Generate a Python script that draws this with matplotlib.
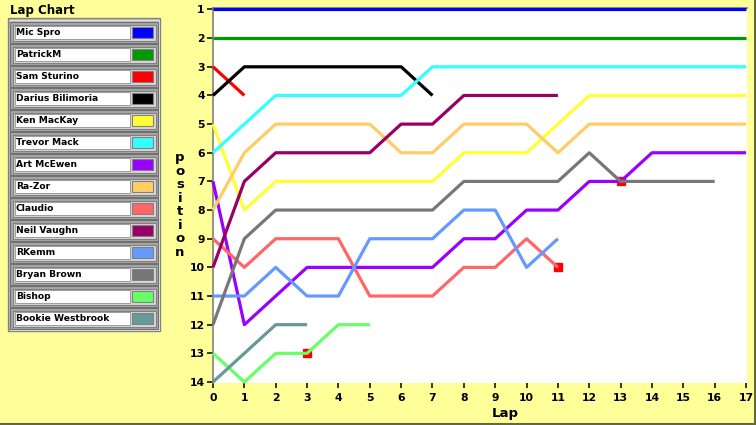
import matplotlib
matplotlib.use("Agg")
import matplotlib.pyplot as plt
from matplotlib.patches import Rectangle
from matplotlib.lines import Line2D

# ---------------- data ----------------
drivers = ["Mic Spro", "PatrickM", "Sam Sturino", "Darius Bilimoria", "Ken MacKay",
           "Trevor Mack", "Art McEwen", "Ra-Zor", "Claudio", "Neil Vaughn",
           "RKemm", "Bryan Brown", "Bishop", "Bookie Westbrook"]
colors = ["#0000FF", "#009900", "#FF0000", "#000000", "#FFFF33",
          "#33FFFF", "#9900FF", "#FFCC66", "#FF6666", "#990066",
          "#6699FF", "#777777", "#66FF66", "#669999"]

mic_spro = [1, 1, 1, 1, 1, 1, 1, 1, 1, 1, 1, 1, 1, 1, 1, 1, 1, 1]
patrickm = [2, 2, 2, 2, 2, 2, 2, 2, 2, 2, 2, 2, 2, 2, 2, 2, 2, 2]
sam_sturino = [3, 4]
darius = [4, 3, 3, 3, 3, 3, 3, 4]
ken_mackay = [5, 8, 7, 7, 7, 7, 7, 7, 6, 6, 6, 5, 4, 4, 4, 4, 4, 4]
trevor_mack = [6, 5, 4, 4, 4, 4, 4, 3, 3, 3, 3, 3, 3, 3, 3, 3, 3, 3]
art_mcewen = [7, 12, 11, 10, 10, 10, 10, 10, 9, 9, 8, 8, 7, 7, 6, 6, 6, 6]
ra_zor = [8, 6, 5, 5, 5, 5, 6, 6, 5, 5, 5, 6, 5, 5, 5, 5, 5, 5]
claudio = [9, 10, 9, 9, 9, 11, 11, 11, 10, 10, 9, 10]
neil_vaughn = [10, 7, 6, 6, 6, 6, 5, 5, 4, 4, 4, 4]
rkemm = [11, 11, 10, 11, 11, 9, 9, 9, 8, 8, 10, 9]
bryan_brown = [12, 9, 8, 8, 8, 8, 8, 8, 7, 7, 7, 7, 6, 7, 7, 7, 7]
bishop = [13, 14, 13, 13, 12, 12]
bookie = [14, 13, 12, 12]

series = [mic_spro, patrickm, sam_sturino, darius, ken_mackay, trevor_mack,
          art_mcewen, ra_zor, claudio, neil_vaughn, rkemm, bryan_brown,
          bishop, bookie]

mark_laps = [3, 11, 13]
mark_positions = [13, 10, 7]

lap_ticks = list(range(0, 18))
position_ticks = list(range(1, 15))

# ---------------- figure ----------------
W, H = 756, 425
BG = "#FFFF99"
fig = plt.figure(figsize=(W / 100, H / 100), dpi=100, facecolor=BG)

bg = fig.add_axes([0, 0, 1, 1])
bg.set_xlim(0, W)
bg.set_ylim(H, 0)
bg.axis("off")

# outer frame lines (right & bottom)
bg.add_line(Line2D([754.5, 754.5], [0, 423.5], color="#666640", lw=1.5))
bg.add_line(Line2D([0, 754.5], [423.5, 423.5], color="#666640", lw=1.5))

# title
bg.text(10, 10, "Lap Chart", fontsize=8.5, fontweight="bold", color="black",
        ha="left", va="center")

# legend panel
bg.add_patch(Rectangle((8, 18), 152, 313, facecolor="#C0C0C0",
                       edgecolor="#808080", lw=1))
bg.add_patch(Rectangle((9.5, 19.5), 149, 310, facecolor="none",
                       edgecolor="#E0E0E0", lw=0.8))
for i, (name, col) in enumerate(zip(drivers, colors)):
    top = 22 + 22 * i
    bg.add_patch(Rectangle((10, top), 148, 21, facecolor="#A8A8A8",
                           edgecolor="#707070", lw=0.8))
    bg.add_patch(Rectangle((12.5, top + 2.5), 143, 16, facecolor="#D8D8D8",
                           edgecolor="#808080", lw=0.8))
    bg.add_patch(Rectangle((15, top + 4), 115, 13, facecolor="white",
                           edgecolor="#909090", lw=0.6))
    bg.add_patch(Rectangle((131.5, top + 5), 21.5, 11, facecolor=col,
                           edgecolor="#808080", lw=0.8))
    bg.text(16, top + 10.8, name, fontsize=6.6, fontweight="bold",
            color="black", ha="left", va="center")

# axis labels
bg.text(180, 205, "\n".join(list("position")), fontsize=9.5, fontweight="bold",
        ha="center", va="center", linespacing=1.05)
bg.text(505, 413, "Lap", fontsize=9.5, fontweight="bold", ha="center",
        va="center")

# main plot
L, R, T, B = 213, 747, 8, 383
ax = fig.add_axes([L / W, (H - B) / H, (R - L) / W, (B - T) / H])
ax.set_facecolor("white")
ax.set_xlim(0, 17.03)
ax.set_ylim(14.035, 0.948)

for s in ["right", "bottom"]:
    ax.spines[s].set_visible(False)
for s in ["left", "top"]:
    ax.spines[s].set_color("#808080")
    ax.spines[s].set_linewidth(1.2)

ax.plot(mark_laps, mark_positions, linestyle="none", marker="s",
        markersize=5.5, color="#FF0000", zorder=2, clip_on=False)

for vals, col in zip(series, colors):
    ax.plot(range(len(vals)), vals, color=col, lw=2.3, zorder=3,
            clip_on=False, solid_capstyle="butt")

ax.set_xticks(lap_ticks)
ax.set_xticklabels([str(v) for v in lap_ticks], fontsize=7.8,
                   fontweight="bold")
ax.set_yticks(position_ticks)
ax.set_yticklabels([str(v) for v in position_ticks], fontsize=7.8,
                   fontweight="bold")
ax.tick_params(axis="x", direction="out", length=3.5, width=1.1, pad=4,
               color="black")
ax.tick_params(axis="y", direction="out", length=4, width=1.1, pad=2,
               color="black")

fig.savefig("out.png", dpi=100, facecolor=BG)
